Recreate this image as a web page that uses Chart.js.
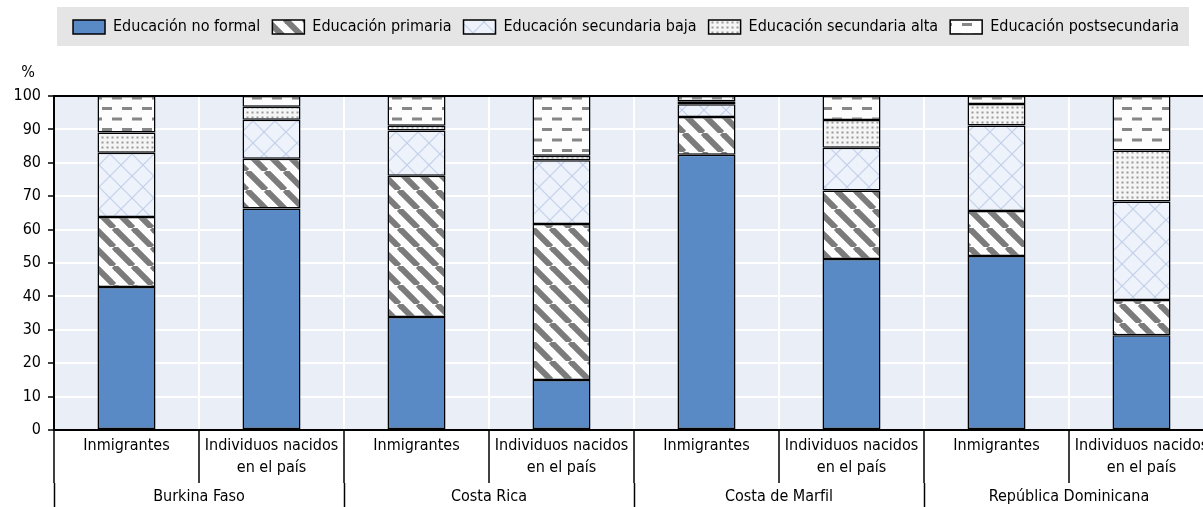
<!DOCTYPE html>
<html lang="es">
<head>
<meta charset="utf-8">
<script src="https://cdn.jsdelivr.net/npm/chart.js@4.4.1/dist/chart.umd.min.js"></script>
<style>
  html, body { margin: 0; padding: 0; background: #fff; overflow: hidden; }
  #wrap { width: 1252px; height: 507px; }
</style>
</head>
<body>
<div id="wrap"><canvas id="edu-chart"></canvas></div>
<script>
  // categorías (eje x, dos niveles)
  const categorias = [
    'Inmigrantes', ['Individuos nacidos', 'en el país'],
    'Inmigrantes', ['Individuos nacidos', 'en el país'],
    'Inmigrantes', ['Individuos nacidos', 'en el país'],
    'Inmigrantes', ['Individuos nacidos', 'en el país']
  ];
  const paises = ['Burkina Faso', 'Costa Rica', 'Costa de Marfil', 'República Dominicana'];

  // valores (%)
  const noFormal   = [42.8, 66.3, 33.8, 15.0, 82.4, 51.2, 52.1, 28.4];
  const primaria   = [21.0, 14.9, 42.3, 46.7, 11.3, 20.5, 13.5, 10.5];
  const secBaja    = [19.2, 11.7, 13.6, 19.1,  3.8, 12.8, 25.6, 29.5];
  const secAlta    = [ 6.1,  3.9,  1.4,  1.3,  0.9,  8.3,  6.4, 15.3];
  const postSec    = [10.9,  3.2,  8.9, 17.9,  1.6,  7.2,  2.4, 16.3];

  // eje y
  const yMin = 0, yMax = 100, yPaso = 10;

  const FUENTE = "'Liberation Sans Narrow', 'DejaVu Sans Condensed', 'Arial Narrow', sans-serif";
  Chart.defaults.font.family = FUENTE;
  Chart.defaults.color = '#000';

  function patron(w, h, dibujar) {
    const c = document.createElement('canvas');
    c.width = w; c.height = h;
    const g = c.getContext('2d');
    dibujar(g, w, h);
    return g.createPattern(c, 'repeat');
  }

  // rayas diagonales
  const pRayas = patron(19, 19, (g, w, h) => {
    g.fillStyle = '#fdfdfd';
    g.fillRect(0, 0, w, h);
    g.strokeStyle = '#7b7b7b';
    g.lineWidth = 6;
    [-w, 0, w].forEach(x0 => {
      g.beginPath(); g.moveTo(x0, 0); g.lineTo(x0 + w, h); g.stroke();
    });
  });
  // cuadrícula en rombos
  const pRombos = patron(22, 22, (g, w, h) => {
    g.fillStyle = '#eef2fa';
    g.fillRect(0, 0, w, h);
    g.strokeStyle = '#c3d0ec';
    g.lineWidth = 1.2;
    g.beginPath(); g.moveTo(0, 0); g.lineTo(w, h); g.stroke();
    g.beginPath(); g.moveTo(w, 0); g.lineTo(0, h); g.stroke();
  });
  // puntos
  const pPuntos = patron(5, 5, (g, w, h) => {
    g.fillStyle = '#f5f5f5';
    g.fillRect(0, 0, w, h);
    g.fillStyle = '#9a9a9a';
    g.fillRect(1.5, 1.5, 2, 2);
  });
  // guiones
  const pGuiones = patron(20, 21, (g, w, h) => {
    g.fillStyle = '#fdfdfd';
    g.fillRect(0, 0, w, h);
    g.fillStyle = '#868686';
    g.fillRect(2, 2, 10, 3);
    g.fillRect(12, 12.5, 8, 3);
    g.fillRect(0, 12.5, 2, 3);
  });

  const fondos = {
    id: 'fondos',
    beforeDraw(chart) {
      const { ctx, chartArea, legend } = chart;
      ctx.save();
      const cajas = legend && legend.legendHitBoxes;
      if (cajas && cajas.length) {
        const l = Math.min(...cajas.map(b => b.left)) - 16;
        const r = Math.max(...cajas.map(b => b.left + b.width)) + 10;
        const cy = cajas[0].top + cajas[0].height / 2;
        ctx.fillStyle = '#e5e5e5';
        ctx.fillRect(l, cy - 20, r - l, 39);
      }
      ctx.fillStyle = '#e9eef7';
      ctx.fillRect(chartArea.left, chartArea.top, chartArea.width, chartArea.height);
      ctx.restore();
    },
    afterDraw(chart) {
      const { ctx, chartArea, scales } = chart;
      ctx.save();
      ctx.font = '16px ' + FUENTE;
      ctx.fillStyle = '#000';
      ctx.textAlign = 'center';
      ctx.textBaseline = 'middle';
      ctx.fillText('%', scales.y.right - 26, chartArea.top - 23);
      ctx.restore();
    }
  };

  const comun = { borderColor: '#000', borderWidth: 1.5, borderSkipped: false };

  new Chart(document.getElementById('edu-chart'), {
    type: 'bar',
    data: {
      labels: categorias,
      datasets: [
        { label: 'Educación no formal', data: noFormal, backgroundColor: '#5a8ac6', ...comun },
        { label: 'Educación primaria', data: primaria, backgroundColor: pRayas, ...comun },
        { label: 'Educación secundaria baja', data: secBaja, backgroundColor: pRombos, ...comun },
        { label: 'Educación secundaria alta', data: secAlta, backgroundColor: pPuntos, ...comun },
        { label: 'Educación postsecundaria', data: postSec, backgroundColor: pGuiones, ...comun }
      ]
    },
    options: {
      responsive: true,
      maintainAspectRatio: false,
      animation: false,
      layout: { padding: { top: 7, right: 0, left: 0, bottom: 0 } },
      datasets: { bar: { categoryPercentage: 1, barPercentage: 0.4 } },
      plugins: {
        legend: {
          position: 'top',
          labels: { boxWidth: 32, boxHeight: 14, padding: 12, font: { size: 16 } }
        },
        tooltip: { enabled: false }
      },
      scales: {
        x: {
          stacked: true,
          offset: true,
          weight: 0,
          grid: { offset: true, color: '#fff', lineWidth: 2, tickColor: '#000', tickWidth: 1.5, tickLength: 53 },
          border: { color: '#000', width: 2 },
          ticks: { autoSkip: false, maxRotation: 0, padding: -48, font: { size: 16, lineHeight: 1.375 } },
          afterFit: s => { s.height = 53; }
        },
        x2: {
          type: 'category',
          position: 'bottom',
          labels: paises,
          offset: true,
          weight: 1,
          grid: { offset: true, drawOnChartArea: false, tickColor: '#000', tickWidth: 1.5, tickLength: 24 },
          border: { display: false },
          ticks: { autoSkip: false, maxRotation: 0, padding: -21, font: { size: 16, lineHeight: 1.375 } },
          afterFit: s => { s.height = 24; }
        },
        xTop: {
          type: 'category',
          position: 'top',
          labels: paises,
          grid: { display: false },
          border: { display: false },
          ticks: { display: false },
          afterFit: s => { s.height = 51; }
        },
        y: {
          stacked: true,
          min: yMin,
          max: yMax,
          grid: {
            color: c => (c.tick && c.tick.value === yMax ? '#000' : '#fff'),
            lineWidth: 2, tickColor: '#000', tickWidth: 1.5, tickLength: 6
          },
          border: { color: '#000', width: 2 },
          ticks: { stepSize: yPaso, padding: 7, font: { size: 16 } },
          afterFit: s => { s.width = 54; }
        },
        yDer: {
          type: 'linear',
          position: 'right',
          min: yMin,
          max: yMax,
          grid: { display: false },
          border: { display: false },
          ticks: { display: false },
          afterFit: s => { s.width = 38; }
        }
      }
    },
    plugins: [fondos]
  });
</script>
</body>
</html>
